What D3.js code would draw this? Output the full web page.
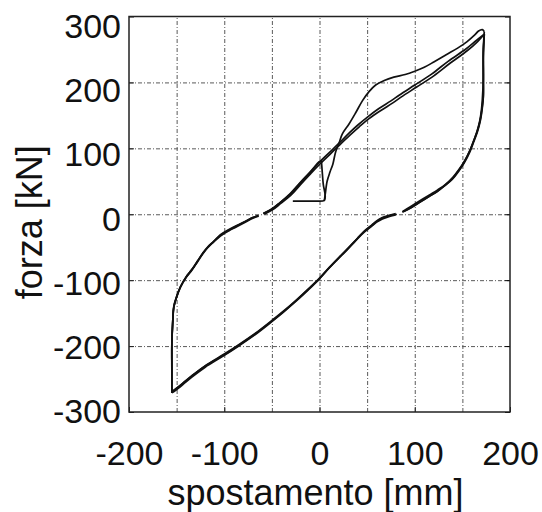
<!DOCTYPE html>
<html>
<head>
<meta charset="utf-8">
<script src="https://cdn.jsdelivr.net/npm/d3@7"></script>
<style>
body { margin: 0; background: #fff; }
text { font-family: "Liberation Sans", Arial, sans-serif; fill: #111; }
</style>
</head>
<body>
<div id="chart"></div>
<script>

// axis ticks
var xTicks = [-200, -100, 0, 100, 200];
var xGrid  = [-150, -100, -50, 0, 50, 100, 150];
var yTicks = [-300, -200, -100, 0, 100, 200, 300];
var yGrid  = [-200, -100, 0, 100, 200];

// hysteresis branches [spostamento mm, forza kN], null = gap in the trace
var virgin = [[5,20],[6,30],[8,50],[11,64],[14,76],[17,95],[21,110],[24,122],[31,137],[38,154],[45,172],[52,186],[59,196],[68,203],[78,208],[90,212],[100,217],[110,223],[120,231],[133,242],[145,252],[155,262],[163,272],[167,278],[171,280],[173,277]];

var down1 = [[173,277],[172,250],[172,215],[172,180],[171,165],[169,145],[166,128],[162,112],[158,97],[152,80],[146,67],[140,56],[132,45],[124,37],[115,29],[105,20],[95,11],[87,4],null,[80,1],[72,-2],[66,-5],[60,-10],[55,-16],[49,-23],[40,-36],[31,-50],[20,-66],[10,-81],[0,-97],[-10,-111],[-25,-131],[-37,-146],[-49,-160],[-65,-178],[-84,-197],[-100,-212],[-119,-229],[-133,-244],[-143,-256],[-150,-264],[-155,-269]];

var up1 = [[-155,-269],[-155,-235],[-155,-195],[-154,-160],[-153,-140],[-150,-125],[-146,-110],[-140,-95],[-134,-84],[-128,-71],[-122,-58],[-117,-49],[-111,-41],[-104,-31],[-95,-23],[-87,-17],[-78,-11],[-70,-5],[-64,-2],null,[-59,1],[-50,8],[-42,17],[-31,30],[-21,46],[-10,63],[0,79],[10,93],[20,107],[31,123],[40,135],[50,147],[62,160],[75,172],[84,181],[100,196],[118,213],[135,232],[154,251],[165,264],[173,273]];

var down2 = [[173,273],[172,240],[172,205],[171,175],[170,158],[168,140],[165,124],[161,108],[157,94],[151,77],[145,64],[139,53],[131,43],[123,34],[114,26],[104,17],[95,9],[87,3],null,[80,-1],[72,-4],[66,-7],[60,-12],[54,-19],[47,-27],[38,-40],[29,-54],[18,-70],[8,-85],[-2,-101],[-12,-115],[-27,-135],[-39,-150],[-51,-164],[-67,-182],[-86,-201],[-102,-216],[-120,-232],[-134,-247],[-144,-259],[-151,-267],[-155,-271]];

var up2 = [[-155,-271],[-155,-238],[-155,-198],[-154,-162],[-153,-142],[-150,-126],[-146,-111],[-140,-96],[-134,-85],[-128,-72],[-122,-59],[-117,-50],[-111,-42],[-104,-33],[-95,-25],[-87,-19],[-78,-12],[-70,-6],[-64,-3],null,[-58,0],[-49,7],[-41,16],[-30,29],[-20,45],[-9,62],[1,77],[11,91],[21,105],[32,120],[42,133],[52,145],[64,157],[77,169],[86,178],[102,193],[120,210],[137,229],[155,248],[166,262],[173,273]];

var down3 = [[173,273],[172,245],[172,208],[172,178],[171,162],[169,143],[166,126],[162,110],[158,95],[152,78],[146,65],[140,54],[132,44],[124,35],[115,27],[105,18],[96,10],[88,4],null,[81,0],[74,-2],[67,-5],[61,-10],[55,-17],[48,-25],[39,-38],[30,-52],[19,-68],[9,-83],[-1,-99],[-11,-113],[-26,-133],[-38,-148],[-50,-162],[-66,-180],[-85,-199],[-101,-214],[-120,-230],[-134,-245],[-144,-257],[-151,-265],[-155,-270]];

var up3 = [[-155,-270],[-155,-236],[-155,-196],[-154,-161],[-153,-141],[-150,-125],[-146,-110],[-140,-95],[-134,-84],[-128,-71],[-122,-58],[-117,-50],[-111,-41],[-104,-32],[-95,-24],[-87,-18],[-78,-11],[-70,-5],[-64,-2],null,[-59,1],[-50,8],[-42,17],[-31,31],[-21,47],[-10,64],[0,80],[2,81]];

var finalDrop = [[2,81],[3,62],[4,45],[6,28],[5,21],[-5,20],[-28,20]];

var branches = [virgin, down1, up1, down2, up2, down3, up3, finalDrop];


var width  = 542;
var height = 512;
var pLeft = 129, pRight = 510, pTop = 16.5, pBottom = 412;

var svg = d3.select("#chart")
	.append("svg")
	.attr("width", width)
	.attr("height", height);

var x = d3.scaleLinear().domain([-200, 200]).range([pLeft, pRight]);
var y = d3.scaleLinear().domain([-300, 300]).range([pBottom, pTop]);

// grid (dash-dot)
svg.append("g")
	.attr("transform", "translate(0," + pBottom + ")")
	.call(d3.axisBottom(x).tickValues(xGrid).tickSize(-(pBottom - pTop)).tickFormat(""))
	.call(function(g){ g.select(".domain").remove(); })
	.selectAll("line")
	.attr("stroke", "#5a5a5a")
	.attr("stroke-dasharray", "4,2,1,2");

svg.append("g")
	.attr("transform", "translate(" + pLeft + ",0)")
	.call(d3.axisLeft(y).tickValues(yGrid).tickSize(-(pRight - pLeft)).tickFormat(""))
	.call(function(g){ g.select(".domain").remove(); })
	.selectAll("line")
	.attr("stroke", "#5a5a5a")
	.attr("stroke-dasharray", "4,2,1,2");

// tick labels
var fmt = function(d){ return d < 0 ? "-" + Math.abs(d) : String(d); };

var gx = svg.append("g")
	.attr("transform", "translate(0," + pBottom + ")")
	.call(d3.axisBottom(x).tickValues(xTicks).tickSize(5).tickPadding(24).tickFormat(fmt));
gx.select(".domain").remove();
gx.selectAll("line").attr("y2", -5).attr("stroke", "#222");
gx.selectAll("text").attr("font-size", 34).style("font-family", "'Liberation Sans', Arial, sans-serif");

var gy = svg.append("g")
	.attr("transform", "translate(" + pLeft + ",0)")
	.call(d3.axisLeft(y).tickValues(yTicks).tickSize(5).tickPadding(3).tickFormat(fmt));
gy.select(".domain").remove();
gy.selectAll("line").attr("x2", 5).attr("stroke", "#222");
// labels in the scan sit a little low near the top
gy.selectAll("text")
	.attr("font-size", 34)
	.attr("x", -8)
	.attr("y", function(d){ return 5 + d / 60; })
	.style("font-family", "'Liberation Sans', Arial, sans-serif");

// right inward ticks
svg.append("g")
	.attr("transform", "translate(" + pRight + ",0)")
	.call(d3.axisRight(y).tickValues(yTicks).tickSize(-5).tickFormat(""))
	.call(function(g){ g.select(".domain").remove(); });

// frame
svg.append("rect")
	.attr("x", pLeft).attr("y", pTop)
	.attr("width", pRight - pLeft).attr("height", pBottom - pTop)
	.attr("fill", "none")
	.attr("stroke", "#222")
	.attr("stroke-width", 1.5);

// curves
var line = d3.line()
	.defined(function(d){ return d !== null; })
	.x(function(d){ return x(d[0]); })
	.y(function(d){ return y(d[1]); })
	.curve(d3.curveCatmullRom.alpha(0.5));

for (var i = 0; i < branches.length; i++) {
	svg.append("path")
		.attr("d", line(branches[i]))
		.attr("fill", "none")
		.attr("stroke", "#111")
		.attr("stroke-width", 1.7)
		.attr("stroke-linejoin", "round");
}

// axis titles
svg.append("text")
	.attr("x", (pLeft + pRight) / 2 - 4)
	.attr("y", 505)
	.attr("text-anchor", "middle")
	.attr("font-size", 36)
	.text("spostamento [mm]");

svg.append("text")
	.attr("transform", "translate(42," + ((pTop + pBottom) / 2 + 8) + ") rotate(-90)")
	.attr("text-anchor", "middle")
	.attr("font-size", 36)
	.text("forza [kN]");

</script>
</body>
</html>
